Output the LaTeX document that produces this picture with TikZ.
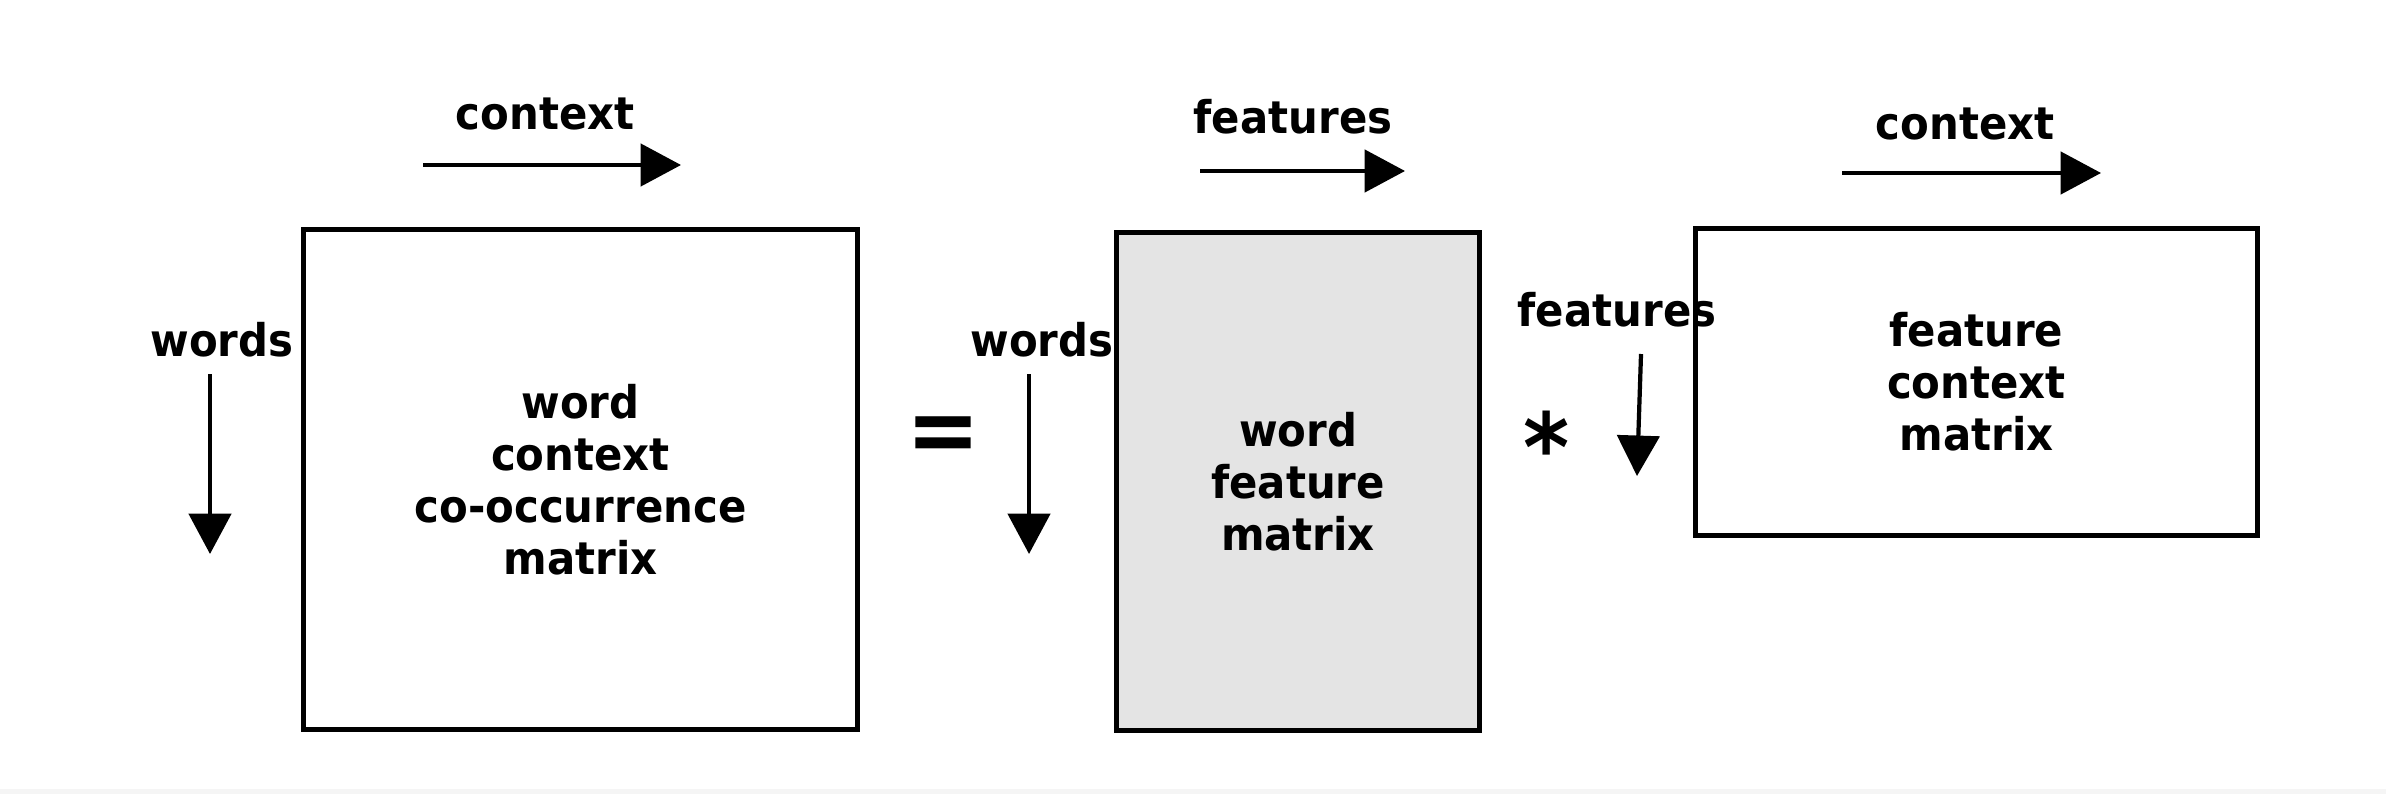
\documentclass[tikz,border=0pt]{standalone}
\usepackage{fontspec}
\setmainfont{DejaVu Sans}[FakeStretch=0.93]
\usetikzlibrary{arrows.meta}
\definecolor{boxgray}{HTML}{E4E4E4}
\tikzset{
  lbl/.style={inner sep=0pt, font=\bfseries\fontsize{12.8pt}{14.8pt}\selectfont},
  mat/.style={draw=black, line width=1.4pt, inner sep=0pt, align=center,
              font=\bfseries\fontsize{12.8pt}{14.8pt}\selectfont},
  op/.style={inner sep=0pt, font=\bfseries\fontsize{27pt}{30pt}\selectfont},
  dirarrow/.style={line width=1.2pt, -{Triangle[length=11.5pt,width=12pt]}}
}
\begin{document}
\begin{tikzpicture}[x=0.01cm,y=-0.01cm]
\useasboundingbox (0,0) rectangle (2386,794);
\fill[white] (0,0) rectangle (2386,794);
\fill[gray!8] (0,789) rectangle (2386,794);
% matrices
\node[mat, minimum width=5.53cm, minimum height=4.99cm] (m1) at (580.5,479.5)
  {word\\context\\co-occurrence\\matrix};
\node[mat, fill=boxgray, minimum width=3.62cm, minimum height=4.97cm] (m2) at (1298,481.5)
  {word\\feature\\matrix};
\node[mat, minimum width=5.61cm, minimum height=3.06cm] (m3) at (1976.5,382)
  {feature\\context\\matrix};
% operators
\node[op] (eq) at (943,440) {=};
\node[op] (times) at (1547,446) {*};
% labels
\node[lbl] (ctx1) at (545,114) {context};
\node[lbl] (wrd1) at (222,340) {words};
\node[lbl] (wrd2) at (1042,340) {words};
\node[lbl] (fea1) at (1293,117) {features};
\node[lbl] (ctx2) at (1965,124) {context};
\node[lbl] (fea2) at (1617,310) {features};
% arrow end points
\coordinate (c1s) at (423,165);  \coordinate (c1e) at (681,165);
\coordinate (w1s) at (210,374);  \coordinate (w1e) at (210,554);
\coordinate (w2s) at (1029,374); \coordinate (w2e) at (1029,554);
\coordinate (f1s) at (1200,171); \coordinate (f1e) at (1405,171);
\coordinate (c2s) at (1842,173); \coordinate (c2e) at (2101,173);
\coordinate (f2s) at (1641,354); \coordinate (f2e) at (1637,476);
\draw[dirarrow] (c1s) -- (c1e);
\draw[dirarrow] (w1s) -- (w1e);
\draw[dirarrow] (w2s) -- (w2e);
\draw[dirarrow] (f1s) -- (f1e);
\draw[dirarrow] (c2s) -- (c2e);
\draw[dirarrow] (f2s) -- (f2e);
\end{tikzpicture}
\end{document}
